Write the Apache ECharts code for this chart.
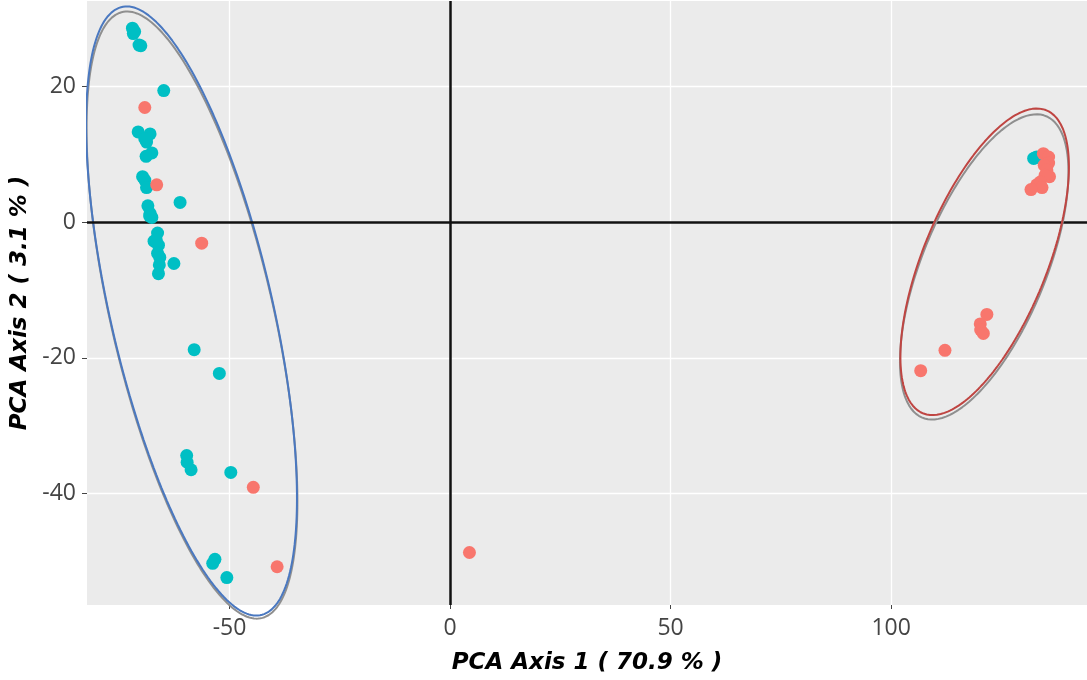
<!DOCTYPE html>
<html><head><meta charset="utf-8">
<script src="https://cdn.jsdelivr.net/npm/echarts@6/dist/echarts.min.js"></script>
<style>html,body{margin:0;padding:0;background:#fff}#chart{width:1087px;height:680px}</style>
</head><body><div id="chart"></div>
<script>
// ---- data ----
const xTicks = [-50, 0, 50, 100];
const yTicks = [-40, -20, 0, 20];
const xTitle = 'PCA Axis 1 ( 70.9 % )';
const yTitle = 'PCA Axis 2 ( 3.1 % )';

const tealPoints = [
  [-72.0,28.6],[-71.8,27.8],[-71.5,28.1],[-70.5,26.1],[-70.1,26.0],[-64.9,19.4],
  [-70.7,13.3],[-68.0,13.0],[-68.8,11.8],[-69.2,12.3],[-67.6,10.2],[-68.9,9.7],
  [-69.7,6.7],[-69.2,6.2],[-68.8,5.1],[-61.2,2.9],[-68.5,2.4],[-68.0,1.3],
  [-67.6,0.7],[-68.1,0.9],[-66.3,-1.6],[-67.1,-2.8],[-66.1,-3.4],[-66.6,-2.6],
  [-66.3,-4.6],[-65.8,-5.2],[-65.9,-6.3],[-62.6,-6.1],[-66.1,-7.6],
  [-58.0,-18.8],[-52.3,-22.3],[-59.7,-34.4],[-59.6,-35.4],[-58.7,-36.5],
  [-49.7,-36.9],[-53.3,-49.7],[-53.8,-50.3],[-50.6,-52.4],
  [132.3,9.4],[133.0,9.6],[132.7,9.5]
];
const redPoints = [
  [-69.2,16.9],[-66.5,5.5],[-56.3,-3.1],[-44.6,-39.1],[-39.2,-50.8],[4.4,-48.7],
  [134.5,10.1],[135.7,9.6],[135.7,8.7],[134.7,8.4],[135.3,7.7],[135.9,6.7],
  [134.9,6.9],[133.8,5.9],[133.0,5.5],[134.2,5.1],[131.7,4.8],
  [121.7,-13.6],[120.2,-15.0],[120.3,-15.9],[120.9,-16.4],[112.2,-18.9],[106.7,-21.9]
];

// confidence ellipses: centre, spread and correlation, in data units
const ellipseCX = [-58.5, -58.6, 121.1, 121.2];
const ellipseCY = [-13.7, -13.1, -6.6, -5.85];
const ellipseSX = [23.9, 23.9, 19.1, 19.1];
const ellipseSY = [44.75, 44.9, 22.5, 22.6];
const ellipseR  = [-0.615, -0.615, 0.62, 0.62];
const ellipseColor = ['#8f8f8f', '#4a78c0', '#8f8f8f', '#bf4542'];

// ---- build ----
function ellipsePts(i){
  const pts = [];
  const n = 240, k = Math.sqrt(1 - ellipseR[i]*ellipseR[i]);
  for (let j = 0; j <= n; j++){
    const t = j / n * Math.PI * 2, u = Math.cos(t), v = Math.sin(t);
    pts.push([ellipseCX[i] + ellipseSX[i]*u, ellipseCY[i] + ellipseSY[i]*(ellipseR[i]*u + k*v)]);
  }
  return pts;
}

const xMin = -82.3, xMax = 144.4, yMin = -56.44, yMax = 32.6;
const tickFont = {fontFamily:'Open Sans', fontSize:23, color:'#444'};
const titleFont = {fontFamily:'DejaVu Sans', fontSize:23, fontWeight:'bold', fontStyle:'italic', color:'#000'};

const series = [];
series.push({
  type:'line', data:[], silent:true,
  markLine:{silent:true, symbol:'none', label:{show:false},
    lineStyle:{color:'#111', width:2.5, type:'solid'},
    data:[{xAxis:0},{yAxis:0}]},
  z:2
});
for (let i = 0; i < ellipseCX.length; i++){
  series.push({type:'line', data:ellipsePts(i), showSymbol:false, symbol:'none', smooth:false,
    clip:false, silent:true, lineStyle:{color:ellipseColor[i], width:2}, z:3+i});
}
series.push({type:'scatter', data:tealPoints, symbolSize:13, itemStyle:{color:'#00BFC4', opacity:1}, z:10});
series.push({type:'scatter', data:redPoints, symbolSize:13, itemStyle:{color:'#F8766D', opacity:1}, z:11});

const chart = echarts.init(document.getElementById('chart'), null, {renderer:'canvas'});
chart.setOption({
  animation:false,
  backgroundColor:'#fff',
  grid:{left:87, right:0, top:1, bottom:75, show:true, backgroundColor:'#EBEBEB', borderWidth:0, containLabel:false},
  xAxis:{type:'value', min:xMin, max:xMax,
    name:xTitle, nameLocation:'middle', nameGap:47, nameTextStyle:titleFont,
    axisLine:{show:false, onZero:false},
    axisTick:{show:true, length:4, lineStyle:{color:'#444', width:1}, customValues:xTicks},
    axisLabel:{...tickFont, margin:12, customValues:xTicks},
    splitLine:{show:true, lineStyle:{color:'#fff', width:1.3}}},
  yAxis:{type:'value', min:yMin, max:yMax,
    name:yTitle, nameLocation:'middle', nameGap:47, nameTextStyle:titleFont,
    axisLine:{show:false, onZero:false},
    axisTick:{show:true, length:5, lineStyle:{color:'#444', width:1}, customValues:yTicks},
    axisLabel:{...tickFont, margin:11, customValues:yTicks},
    splitLine:{show:true, lineStyle:{color:'#fff', width:1.3}}},
  series:series
});
</script>
</body></html>
